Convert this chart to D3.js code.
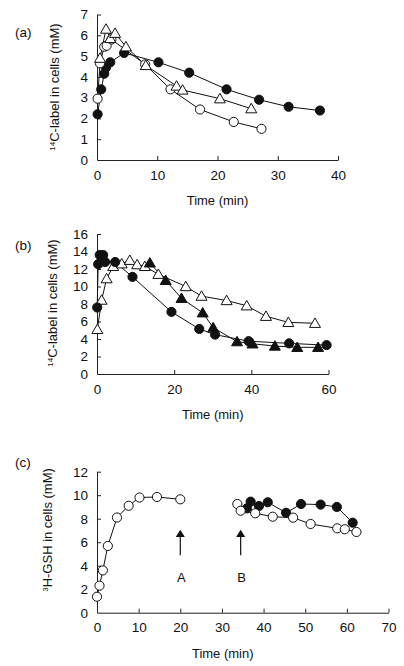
<!DOCTYPE html>
<html><head><meta charset="utf-8">
<script src="https://cdn.jsdelivr.net/npm/d3@7"></script>
<style>body{margin:0;background:#fff}svg{display:block}text{font-family:"Liberation Sans",Arial,sans-serif;fill:#111}</style>
</head><body><svg id="c" width="404" height="666"></svg>
<script>
// ---- Panel (a) data: time (min), 14C-label (mM)
const aFilledT = [0.1, 0.7, 1.2, 1.5, 2.2, 4.5, 10.2, 15.3, 21.5, 26.9, 31.8, 37];
const aFilledV = [2.2, 3.4, 4.15, 4.45, 4.7, 5.15, 4.7, 4.2, 3.4, 2.9, 2.56, 2.38];
const aOpenCT = [0.1, 0.5, 1.2, 1.6, 2.4, 8.0, 12.2, 17.1, 22.7, 27.3];
const aOpenCV = [2.95, 4.65, 5.45, 5.5, 5.8, 4.6, 3.4, 2.43, 1.83, 1.5];
const aOpenTT = [0.5, 1.5, 2.2, 3.0, 4.8, 8.1, 13.2, 14.2, 20.4, 25.6];
const aOpenTV = [4.9, 6.3, 5.85, 6.1, 5.45, 4.55, 3.56, 3.37, 2.95, 2.47];
const aXTicks = [0, 10, 20, 30, 40];
const aYTicks = [0, 1, 2, 3, 4, 5, 6, 7];

// ---- Panel (b) data
const bFilledCT = [0.05, 0.3, 0.7, 1.6, 2.1, 4.7, 9.2, 19.3, 26.5, 30.6, 39.3, 49.8, 59.5];
const bFilledCV = [7.6, 12.55, 13.6, 13.6, 12.8, 12.8, 11.1, 7.1, 5.15, 4.5, 3.75, 3.5, 3.3];
const bFilledTT = [13.7, 17.8, 21.9, 27.4, 30.1, 36.3, 40.3, 46.1, 51.9, 57.3];
const bFilledTV = [12.7, 10.7, 8.65, 7.0, 5.3, 3.7, 3.45, 3.2, 3.05, 3.05];
const bOpenTT = [0.1, 1.2, 2.5, 4.2, 6.4, 8.5, 10.4, 12.4, 15.9, 23.0, 27.1, 33.6, 38.8, 43.8, 49.6, 56.5];
const bOpenTV = [5.1, 8.45, 10.9, 12.3, 12.6, 13.0, 12.5, 12.3, 11.4, 10.0, 8.9, 8.4, 7.8, 6.6, 5.9, 5.8];
const bXTicks = [0, 20, 40, 60];
const bYTicks = [0, 2, 4, 6, 8, 10, 12, 14, 16];

// ---- Panel (c) data: 3H-GSH (mM)
const cOpen1T = [0, 0.6, 1.4, 2.6, 4.8, 7.6, 10.2, 14.4, 20];
const cOpen1V = [1.36, 2.3, 3.6, 5.68, 8.1, 9.1, 9.8, 9.85, 9.65];
const cOpen2T = [33.7, 34.5, 38, 42.2, 47.1, 51.3, 57.7, 59.5, 62.3];
const cOpen2V = [9.25, 8.68, 8.46, 8.17, 8.09, 7.55, 7.18, 7.1, 6.87];
const cFilledT = [36.0, 36.9, 38.9, 41.0, 45.4, 49.0, 53.7, 57.6, 61.4];
const cFilledV = [8.88, 9.45, 9.08, 9.4, 8.5, 9.25, 9.2, 9.0, 7.66];
const cArrowLabels = ["A", "B"];
const cArrowT = [20, 34.5];
const cXTicks = [0, 10, 20, 30, 40, 50, 60, 70];
const cYTicks = [0, 2, 4, 6, 8, 10, 12];

const svg = d3.select("#c");
const zip = (t, v) => t.map((x, i) => [x, v[i]]);
const FS = "13.5px";

function panel(o) {
  const g = svg.append("g");
  const x = d3.scaleLinear().domain(o.xd).range(o.xr);
  const y = d3.scaleLinear().domain(o.yd).range(o.yr);
  const xa = d3.axisBottom(x).tickValues(o.xt).tickFormat(d3.format("d")).tickSize(-4).tickSizeOuter(0).tickPadding(10);
  const ya = d3.axisLeft(y).tickValues(o.yt).tickFormat(d3.format("d")).tickSize(-4).tickSizeOuter(0).tickPadding(9);
  const gx = g.append("g").attr("transform", `translate(0,${o.yr[0]})`).call(xa);
  const gy = g.append("g").attr("transform", `translate(${o.xr[0]},0)`).call(ya);
  [gx, gy].forEach(a => {
    a.select(".domain").attr("stroke", "#222").attr("stroke-width", 1);
    a.selectAll(".tick line").attr("stroke", "#222");
    a.selectAll("text").style("font-size", FS).style("font-family", "Liberation Sans, Arial, sans-serif").attr("fill", "#111");
  });
  gx.selectAll(".tick line").filter(d => d === o.xd[0]).remove();
  gy.selectAll(".tick line").filter(d => d === o.yd[0]).remove();
  g.append("text").attr("x", (o.xr[0] + o.xr[1]) / 2 + o.xtOff).attr("y", o.yr[0] + 45)
    .attr("text-anchor", "middle").style("font-size", "13px").text("Time (min)");
  const yl = g.append("text").attr("transform", `translate(${o.ylx},${o.yly}) rotate(-90)`)
    .attr("text-anchor", "middle").style("font-size", "13px");
  yl.append("tspan").attr("baseline-shift", "super").style("font-size", "8px").text(o.sup);
  yl.append("tspan").text(o.ylab);
  g.append("text").attr("x", 15).attr("y", o.tagY).style("font-size", "13.5px").text(o.tag);
  const line = d3.line().x(d => x(d[0])).y(d => y(d[1]));
  const circ = d3.symbol().type(d3.symbolCircle).size(66);
  const tri = d3.symbol().type(d3.symbolTriangle).size(52);
  o.series.forEach(s => {
    g.append("path").datum(zip(s.t, s.v)).attr("d", line).attr("fill", "none").attr("stroke", "#111").attr("stroke-width", 1);
  });
  o.series.forEach(s => {
    g.selectAll(null).data(zip(s.t, s.v)).join("path")
      .attr("transform", d => `translate(${x(d[0])},${y(d[1]) + (s.shape === "tri" ? 1 : 0)})`)
      .attr("d", s.shape === "tri" ? tri : circ)
      .attr("fill", s.filled ? "#111" : "#fff").attr("stroke", "#111").attr("stroke-width", 1);
  });
  return {g, x, y};
}

panel({xd: [0, 40], xr: [97, 338], yd: [0, 7], yr: [160, 14.5], xt: aXTicks, yt: aYTicks,
  xtOff: 0, ylx: 59, yly: 87, sup: "14", ylab: "C-label in cells (mM)", tag: "(a)", tagY: 37,
  series: [
    {t: aFilledT, v: aFilledV, shape: "circ", filled: true},
    {t: aOpenCT, v: aOpenCV, shape: "circ", filled: false},
    {t: aOpenTT, v: aOpenTV, shape: "tri", filled: false}
  ]});

panel({xd: [0, 60], xr: [97, 328.5], yd: [0, 16], yr: [374, 234], xt: bXTicks, yt: bYTicks,
  xtOff: 0, ylx: 57, yly: 303, sup: "14", ylab: "C-label in cells (mM)", tag: "(b)", tagY: 250,
  series: [
    {t: bOpenTT, v: bOpenTV, shape: "tri", filled: false},
    {t: bFilledTT, v: bFilledTV, shape: "tri", filled: true},
    {t: bFilledCT, v: bFilledCV, shape: "circ", filled: true}
  ]});

const pc = panel({xd: [0, 70], xr: [97, 388.5], yd: [0, 12], yr: [612.7, 471.7], xt: cXTicks, yt: cYTicks,
  xtOff: -20, ylx: 52, yly: 530, sup: "3", ylab: "H-GSH in cells (mM)", tag: "(c)", tagY: 467,
  series: [
    {t: cOpen1T, v: cOpen1V, shape: "circ", filled: false},
    {t: cFilledT, v: cFilledV, shape: "circ", filled: true},
    {t: cOpen2T, v: cOpen2V, shape: "circ", filled: false}
  ]});

cArrowT.forEach((t, i) => {
  const ax = pc.x(t);
  pc.g.append("line").attr("x1", ax).attr("x2", ax).attr("y1", pc.y(4.9)).attr("y2", pc.y(6.6))
    .attr("stroke", "#111").attr("stroke-width", 1.2);
  const tip = pc.y(7.05), base = pc.y(6.45);
  pc.g.append("path").attr("d", `M${ax},${tip}L${ax - 4.5},${base}L${ax + 4.5},${base}Z`).attr("fill", "#111");
  pc.g.append("text").attr("x", ax + 1).attr("y", pc.y(2.65)).attr("text-anchor", "middle")
    .style("font-size", "13px").text(cArrowLabels[i]);
});
</script></body></html>
